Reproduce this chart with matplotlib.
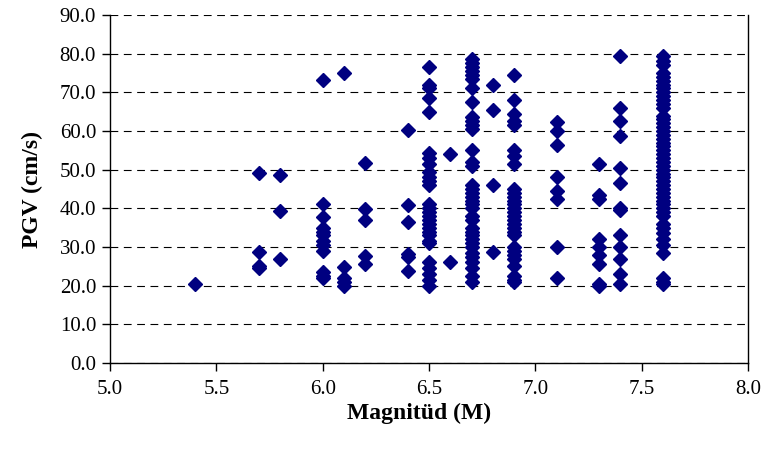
import matplotlib
matplotlib.use('Agg')
import matplotlib.pyplot as plt
import numpy as np

# PGV values (cm/s), grouped by magnitude
pgv = {
    5.4: [20.5],
    5.7: [49.2, 28.8, 25.0, 24.6],
    5.8: [48.7, 39.2, 27.0],
    6.0: [73.3, 41.0, 37.8, 35.0, 34.0, 33.0, 31.5, 30.5, 29.0, 23.5, 22.5, 22.0],
    6.1: [75.0, 24.8, 22.0, 21.0, 20.0],
    6.2: [51.8, 39.8, 37.0, 27.8, 25.5],
    6.4: [60.2, 40.8, 36.5, 28.3, 27.5, 23.8],
    6.5: [76.5, 72.0, 71.0, 68.5, 65.0, 54.3, 53.0, 51.5, 49.5, 48.0, 47.0, 46.0,
          41.0, 40.0, 39.0, 38.0, 37.0, 36.0, 35.0, 34.0, 33.0, 31.5, 31.0, 26.0,
          24.5, 23.0, 21.5, 19.8],
    6.6: [54.0, 26.0],
    6.7: [78.5, 77.5, 76.5, 75.5, 74.5, 73.5, 71.0, 67.5, 63.5, 62.5, 61.5, 60.5,
          55.0, 52.0, 51.0, 46.0, 45.0, 44.0, 43.0, 42.0, 41.0, 40.0, 38.0, 37.0,
          35.0, 34.0, 33.0, 32.0, 31.0, 30.0, 28.5, 27.5, 26.0, 24.5, 22.5, 21.0],
    6.8: [72.0, 65.5, 46.0, 28.8],
    6.9: [74.5, 68.0, 64.5, 62.5, 61.5, 55.0, 53.5, 51.5, 45.0, 44.0, 43.0, 42.0,
          41.0, 40.0, 39.0, 38.0, 37.0, 36.0, 35.0, 34.0, 33.0, 30.0, 29.0, 28.0,
          27.0, 25.0, 22.5, 21.5, 21.0],
    7.1: [62.3, 60.0, 56.5, 48.2, 44.5, 42.5, 30.0, 22.0],
    7.3: [51.5, 43.5, 42.5, 32.0, 30.0, 28.0, 25.5, 20.5, 20.0],
    7.4: [79.5, 66.0, 62.5, 58.8, 50.5, 46.5, 40.0, 39.5, 33.0, 30.0, 27.0, 23.0, 20.5],
    7.6: [79.5, 78.0, 77.0, 75.0, 74.0, 73.0, 72.0, 71.0, 70.0, 69.0, 68.0, 67.0,
          66.0, 64.0, 63.0, 62.0, 61.0, 60.0, 59.0, 58.0, 57.0, 56.0, 55.0, 54.0,
          53.0, 52.0, 51.0, 50.0, 49.0, 48.0, 47.0, 46.0, 45.0, 44.0, 43.0, 42.0,
          41.0, 40.0, 39.0, 38.0, 36.0, 35.0, 33.5, 32.0, 30.5, 28.5, 22.0, 21.0, 20.5],
}

mag = []
vel = []
for m, vals in pgv.items():
    mag += [m] * len(vals)
    vel += vals

plt.rcParams['font.family'] = ['Liberation Serif', 'DejaVu Serif']

fig = plt.figure(figsize=(7.67, 4.5), dpi=100)
ax = fig.add_axes([110 / 767, 1 - 363 / 450, 638 / 767, 348 / 450])

ax.plot(mag, vel, linestyle='None', marker='D', markersize=7,
        color='#000080', markeredgecolor='#000080', clip_on=False, zorder=3)

ax.set_xlim(5.0, 8.0)
ax.set_ylim(0, 90)
ax.set_xticks(np.arange(5.0, 8.01, 0.5))
ax.set_yticks(np.arange(0, 91, 10))
ax.set_xticklabels(['%.1f' % t for t in np.arange(5.0, 8.01, 0.5)])
ax.set_yticklabels(['%.1f' % t for t in np.arange(0, 91, 10)])

ax.yaxis.grid(True, color='black', linewidth=0.8, linestyle=(0, (7, 5)))
ax.set_axisbelow(True)
ax.spines['top'].set_visible(False)
for s in ['left', 'bottom', 'right']:
    ax.spines[s].set_linewidth(1.0)
ax.tick_params(direction='out', length=6, width=1, labelsize=15, pad=6)
ax.tick_params(axis='y', pad=4)

ax.set_xlabel('Magnitüd (M)', fontsize=17, fontweight='bold')
ax.set_ylabel('PGV (cm/s)', fontsize=17, fontweight='bold')
ax.xaxis.set_label_coords(0.485, -0.115)
ax.yaxis.set_label_coords(-0.105, 0.5)

plt.savefig('out.png')
